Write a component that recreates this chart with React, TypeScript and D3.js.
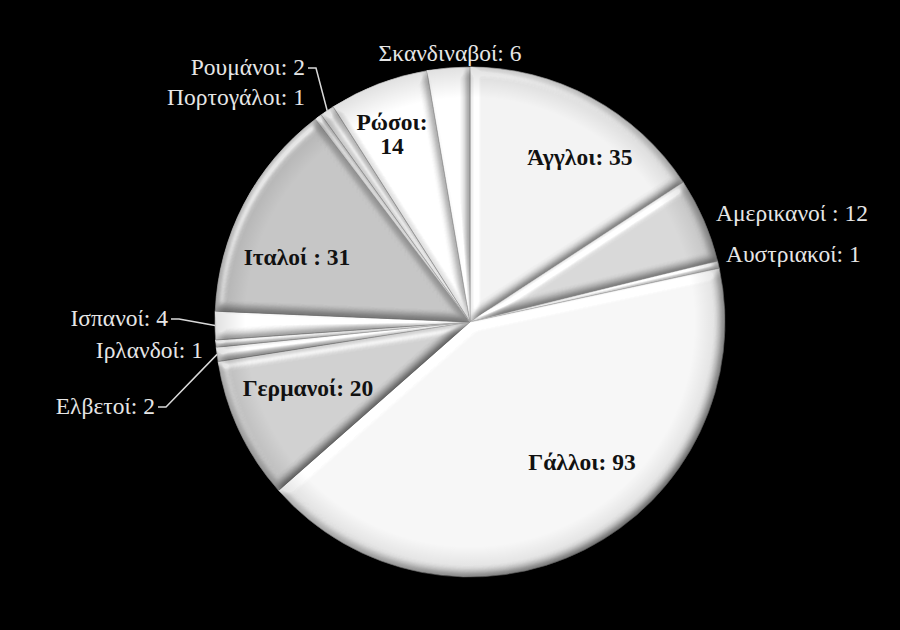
import { useEffect, useRef } from 'react'
import * as d3 from 'd3'

// data
const names = ['Άγγλοι', 'Αμερικανοί', 'Αυστριακοί', 'Γάλλοι', 'Γερμανοί', 'Ελβετοί', 'Ιρλανδοί', 'Ισπανοί', 'Ιταλοί', 'Πορτογάλοι', 'Ρουμάνοι', 'Ρώσοι', 'Σκανδιναβοί']
const values = [35, 12, 1, 93, 20, 2, 1, 4, 31, 1, 2, 14, 6]
const labels = ['Άγγλοι: 35', 'Αμερικανοί : 12', 'Αυστριακοί: 1', 'Γάλλοι: 93', 'Γερμανοί: 20', 'Ελβετοί: 2', 'Ιρλανδοί: 1', 'Ισπανοί: 4', 'Ιταλοί : 31', 'Πορτογάλοι: 1', 'Ρουμάνοι: 2', 'Ρώσοι:|14', 'Σκανδιναβοί: 6']
const fills = ['#e3e3e3', '#c6c6c6', '#d8d8d8', '#e7e7e7', '#bdbdbd', '#dedede', '#c9c9c9', '#f1f1f1', '#b0b0b0', '#c8c8c8', '#dcdcdc', '#f2f2f2', '#f5f5f5']

// label layout: [x, y, anchor, inside, leader]
const layout: Record<string, [number, number, string, boolean, boolean]> = {
  'Άγγλοι': [580, 165, 'middle', true, false],
  'Αμερικανοί': [716, 221, 'start', false, false],
  'Αυστριακοί': [726, 262, 'start', false, false],
  'Γάλλοι': [582, 470, 'middle', true, false],
  'Γερμανοί': [308, 396, 'middle', true, false],
  'Ελβετοί': [155, 414, 'end', false, true],
  'Ιρλανδοί': [203, 358, 'end', false, false],
  'Ισπανοί': [168, 326, 'end', false, true],
  'Ιταλοί': [297, 265, 'middle', true, false],
  'Πορτογάλοι': [305, 105, 'end', false, false],
  'Ρουμάνοι': [305, 75, 'end', false, true],
  'Ρώσοι': [392, 130, 'middle', true, false],
  'Σκανδιναβοί': [450, 61, 'middle', false, false],
}

export default function App() {
  const svgRef = useRef<SVGSVGElement>(null)

  useEffect(() => {
    const w = 900
    const h = 630
    const cx = 470
    const cy = 322
    const r = 255
    const svg = d3.select(svgRef.current)
      .attr('width', w)
      .attr('height', h)
    svg.selectAll('*').remove()

    svg.append('rect').attr('width', w).attr('height', h).attr('fill', '#000')

    //bevel filter
    const defs = svg.append('defs')
    const f = defs.append('filter')
      .attr('id', 'bevel')
      .attr('filterUnits', 'userSpaceOnUse')
      .attr('x', -r - 20).attr('y', -r - 20).attr('width', 2 * r + 40).attr('height', 2 * r + 40)
    f.append('feGaussianBlur').attr('in', 'SourceAlpha').attr('stdDeviation', 4).attr('result', 'b')
    f.append('feDiffuseLighting').attr('in', 'b').attr('surfaceScale', 5).attr('diffuseConstant', 1.2)
      .attr('lighting-color', '#fff').attr('result', 'd')
      .append('feDistantLight').attr('azimuth', 225).attr('elevation', 56)
    f.append('feComposite').attr('in', 'SourceGraphic').attr('in2', 'd').attr('operator', 'arithmetic')
      .attr('k1', 1).attr('k2', 0).attr('k3', 0).attr('k4', 0).attr('result', 'm')
    f.append('feSpecularLighting').attr('in', 'b').attr('surfaceScale', 5).attr('specularConstant', 0.8)
      .attr('specularExponent', 16).attr('lighting-color', '#fff').attr('result', 's')
      .append('feDistantLight').attr('azimuth', 225).attr('elevation', 40)
    f.append('feComposite').attr('in', 's').attr('in2', 'SourceAlpha').attr('operator', 'in').attr('result', 's2')
    f.append('feComposite').attr('in', 'm').attr('in2', 's2').attr('operator', 'arithmetic')
      .attr('k1', 0).attr('k2', 1).attr('k3', 0.8).attr('k4', 0)

    //soft rim shading
    const rg = defs.append('radialGradient').attr('id', 'rim')
    rg.append('stop').attr('offset', '0%').attr('stop-color', '#000').attr('stop-opacity', 0)
    rg.append('stop').attr('offset', '88%').attr('stop-color', '#000').attr('stop-opacity', 0)
    rg.append('stop').attr('offset', '100%').attr('stop-color', '#000').attr('stop-opacity', 0.12)

    const pie = d3.pie<number>().sort(null).value(d => d)
    const arcs = pie(values)
    const arc = d3.arc<d3.PieArcDatum<number>>().innerRadius(0).outerRadius(r)

    const g = svg.append('g').attr('transform', `translate(${cx},${cy})`)

    g.selectAll('.slice')
      .data(arcs)
      .join('path')
        .attr('class', 'slice')
        .attr('d', arc)
        .attr('fill', (d, i) => fills[i])
        .attr('stroke', '#9a9a9a')
        .attr('stroke-width', 0.6)
        .attr('filter', 'url(#bevel)')

    g.append('circle').attr('r', r).attr('fill', 'url(#rim)')

    //leader lines
    arcs.forEach((d, i) => {
      const [lx, ly, anchor, inside, leader] = layout[names[i]]
      if (!leader) return
      const mid = (d.startAngle + d.endAngle) / 2
      const ex = cx + r * Math.sin(mid)
      const ey = cy - r * Math.cos(mid)
      const sx = anchor === 'end' ? lx + 3 : lx - 3
      const y0 = ly - 7
      svg.append('path')
        .attr('d', d3.line()([[sx, y0], [sx + 8, y0], [ex, ey]]))
        .attr('fill', 'none')
        .attr('stroke', '#d9d9d9')
        .attr('stroke-width', 1.5)
    })

    //labels
    arcs.forEach((d, i) => {
      const [lx, ly, anchor, inside] = layout[names[i]]
      const lines = labels[i].split('|')
      lines.forEach((t, j) => {
        svg.append('text')
          .attr('x', lx)
          .attr('y', ly + j * 24)
          .attr('text-anchor', anchor)
          .attr('font-family', 'Liberation Serif, serif')
          .attr('font-size', 23.5)
          .attr('font-weight', inside ? 'bold' : 'normal')
          .attr('fill', inside ? '#111' : '#e6e6e6')
          .text(t)
      })
    })
  }, [])

  return (
    <div style={{ position: 'absolute', left: 0, top: 0 }}>
      <svg ref={svgRef} style={{ display: 'block' }}></svg>
    </div>
  )
}
